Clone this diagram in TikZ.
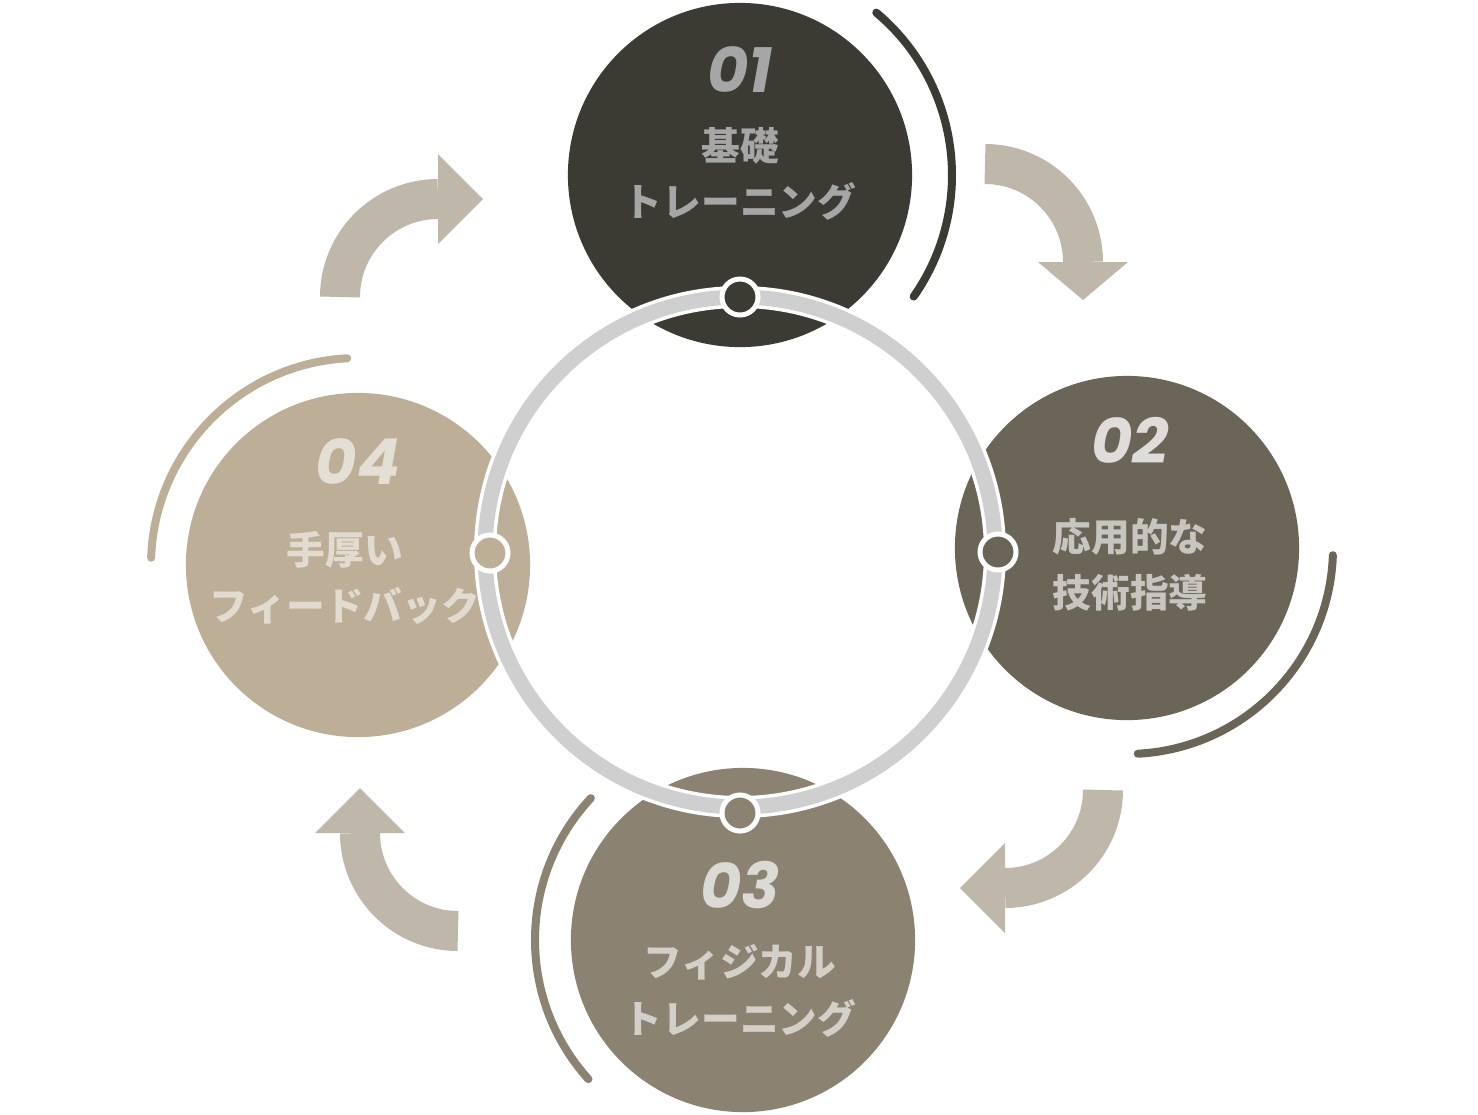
\documentclass[tikz,border=0pt]{standalone}
\usepackage{fontspec}
\setmainfont{Noto Sans CJK JP}
\newfontfamily\numfont{Poppins}
\definecolor{stepA}{HTML}{3C3B33}
\definecolor{stepB}{HTML}{6B6558}
\definecolor{stepC}{HTML}{8B8272}
\definecolor{stepD}{HTML}{BDAE97}
\definecolor{flow}{HTML}{BFB8AA}
\definecolor{ring}{HTML}{CFCFCF}
\begin{document}
\begin{tikzpicture}[
    x=0.01cm, y=-0.01cm,
    every node/.style={align=center},
    stepcircle/.style={circle, minimum size=3.44cm, inner sep=0pt},
    stepnum/.style={font=\numfont\bfseries\itshape\fontsize{18}{18}\selectfont},
    steptext/.style={font=\bfseries\fontsize{11}{16}\selectfont},
    orbit/.style={line width=0.08cm, line cap=round},
    joint/.style={circle, draw=white, line width=0.05cm, minimum size=0.36cm, inner sep=0pt},
    flowband/.style={draw=flow, line width=0.4cm}
]
\useasboundingbox (0,0) rectangle (1478,1114);

% Orbits
\draw[orbit, stepA] (740,175) ++(-50:212) arc (-50:35:212);
\draw[orbit, stepB] (1127,548) ++(2:206) arc (2:87:206);
\draw[orbit, stepC] (743,940) ++(-137:208) arc (-137:-222:208);
\draw[orbit, stepD] (358,565) ++(-93:207) arc (-93:-178:207);

% Circles
\node[stepcircle, fill=stepA] (c1) at (740,175) {};
\node[stepcircle, fill=stepB] (c2) at (1127,548) {};
\node[stepcircle, fill=stepC] (c3) at (743,940) {};
\node[stepcircle, fill=stepD] (c4) at (358,565) {};

% Flow arrows
\draw[flowband] (340,297) arc (180:270:98);
\fill[flow] (438,154) -- (483,199) -- (438,244) -- cycle;
\draw[flowband] (985,164) arc (270:360:98);
\fill[flow] (1038,262) -- (1083,300) -- (1128,262) -- cycle;
\draw[flowband] (1103,790) arc (0:90:98);
\fill[flow] (1005,843) -- (960,888) -- (1005,933) -- cycle;
\draw[flowband] (458,931) arc (90:180:98);
\fill[flow] (315,833) -- (360,788) -- (405,833) -- cycle;

% Ring
\draw[white, line width=0.22cm] (740,552) circle (255);
\draw[ring, line width=0.15cm] (740,552) circle (255);
\node[joint, fill=stepA] (j1) at (740,297) {};
\node[joint, fill=stepB] (j2) at (998,552) {};
\node[joint, fill=stepC] (j3) at (740,813) {};
\node[joint, fill=stepD] (j4) at (490,553) {};

% Labels
\node[stepnum, text=black!35] (n1) at (740,70) {01};
\node[steptext, text=black!35] (t1) at (740,174) {基礎\\トレーニング};
\node[stepnum, text=white!78!stepB] (n2) at (1130,440) {02};
\node[steptext, text=white!62!stepB] (t2) at (1130,565) {応用的な\\技術指導};
\node[stepnum, text=white!70!stepC] (n3) at (740,885) {03};
\node[steptext, text=white!62!stepC] (t3) at (740,991) {フィジカル\\トレーニング};
\node[stepnum, text=white!60!stepD] (n4) at (358,462) {04};
\node[steptext, text=white!55!stepD] (t4) at (345,578) {手厚い\\フィードバック};
\end{tikzpicture}
\end{document}
